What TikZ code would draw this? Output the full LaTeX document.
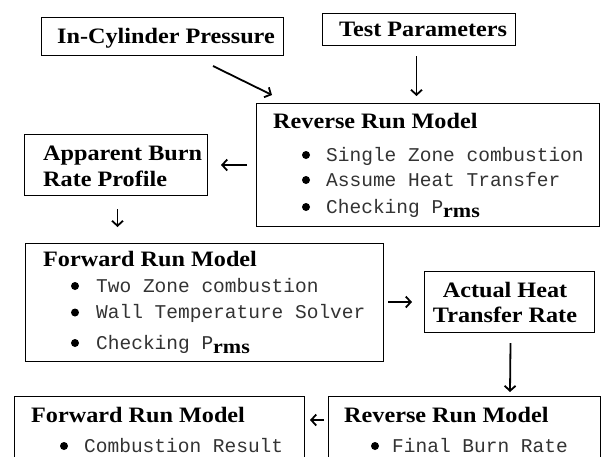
\documentclass[tikz,border=0pt]{standalone}
\usepackage{fontspec}
\usetikzlibrary{arrows.meta,calc}
\newfontfamily\hdfont{Liberation Serif}[FakeStretch=1.10]
\newfontfamily\codefont{Liberation Mono}
% bold serif subscript used after the monospaced "P"
\newcommand\rmsub{\raisebox{-4.5pt}{\color{black}\hdfont\bfseries\fontsize{20}{22}\selectfont rms}}
\tikzset{
  box/.style={draw=black, line width=1pt, anchor=north west, inner sep=0pt},
  head/.style={anchor=base west, inner sep=0pt, font=\hdfont\bfseries\fontsize{22}{24}\selectfont},
  headc/.style={head, anchor=base},
  item/.style={anchor=base west, inner sep=0pt, text=black!80, font=\codefont\fontsize{19.5}{22}\selectfont},
  dot/.style={circle, fill=black, inner sep=0pt, minimum size=8pt},
  flow/.style={draw=black, line width=1.8pt, -{Straight Barb[length=5pt,width=11pt]}},
}
\begin{document}
\begin{tikzpicture}[x=1pt,y=-1pt]
\useasboundingbox (0,0) rectangle (601,456);
\fill[white] (0,0) rectangle (601,456);
\clip (0,0) rectangle (601,456);

% ---- inputs
\node[box, minimum width=242pt, minimum height=38pt] (incyl) at (41,17) {};
\node[head] (incylT) at (57,43) {In-Cylinder Pressure};

\node[box, minimum width=193pt, minimum height=32pt] (test) at (322,13) {};
\node[head] (testT) at (339,36) {Test Parameters};

% ---- first reverse run
\node[box, minimum width=343pt, minimum height=123pt] (rev1) at (256,103) {};
\node[head] (rev1T) at (273,128) {Reverse Run Model};
\node[dot] (rev1d1) at (306,155) {};
\node[item] (rev1i1) at (326,161) {Single Zone combustion};
\node[dot] (rev1d2) at (306,180) {};
\node[item] (rev1i2) at (326,186) {Assume Heat Transfer};
\node[dot] (rev1d3) at (306,207) {};
\node[item] (rev1i3) at (326,213) {Checking P\rmsub};

% ---- apparent burn rate
\node[box, minimum width=183pt, minimum height=61pt] (abr) at (24,134) {};
\node[head] (abrT1) at (43,160) {Apparent Burn};
\node[head] (abrT2) at (43,186) {Rate Profile};

% ---- first forward run
\node[box, minimum width=358pt, minimum height=118pt] (fwd1) at (25,243) {};
\node[head] (fwd1T) at (43,266) {Forward Run Model};
\node[dot] (fwd1d1) at (75,286) {};
\node[item] (fwd1i1) at (96,292) {Two Zone combustion};
\node[dot] (fwd1d2) at (75,312.5) {};
\node[item] (fwd1i2) at (96,318.5) {Wall Temperature Solver};
\node[dot] (fwd1d3) at (75,343) {};
\node[item] (fwd1i3) at (96,349) {Checking P\rmsub};

% ---- actual heat transfer rate
\node[box, minimum width=170pt, minimum height=61pt] (aht) at (424,271) {};
\node[headc] (ahtT1) at (505,297) {Actual Heat};
\node[headc] (ahtT2) at (505,322) {Transfer Rate};

% ---- final reverse run
\node[box, minimum width=272pt, minimum height=90pt] (rev2) at (328,396) {};
\node[head] (rev2T) at (344,422) {Reverse Run Model};
\node[dot] (rev2d1) at (375,446) {};
\node[item] (rev2i1) at (392,452.5) {Final Burn Rate};

% ---- final forward run
\node[box, minimum width=290pt, minimum height=90pt] (fwd2) at (14,396) {};
\node[head] (fwd2T) at (31,422) {Forward Run Model};
\node[dot] (fwd2d1) at (64,446) {};
\node[item] (fwd2i1) at (84,452.5) {Combustion Result};

% ---- connectors
\coordinate (a1s) at ($(incyl.south east)+(-71,10)$);
\coordinate (a1e) at ($(rev1.north west)+(16,-8)$);
\draw[flow] (a1s) -- (a1e);

\coordinate (a2s) at ($(test.south)+(-2.5,10)$);
\coordinate (a2e) at ($(test.south)+(-2.5,50)$);
\draw[flow] (a2s) -- (a2e);

\coordinate (a3s) at ($(rev1.north west)+(-9,62)$);
\coordinate (a3e) at ($(abr.north east)+(13,31)$);
\draw[flow] (a3s) -- (a3e);

\coordinate (a4s) at ($(abr.south)+(1.5,13)$);
\coordinate (a4e) at ($(abr.south)+(1.5,31)$);
\draw[flow] (a4s) -- (a4e);

\coordinate (a5s) at ($(fwd1.north east)+(4,59)$);
\coordinate (a5e) at ($(aht.north west)+(-12,31)$);
\draw[flow] (a5s) -- (a5e);

\coordinate (a6s) at ($(aht.south)+(1,10)$);
\coordinate (a6e) at ($(rev2.north west)+(182,-4)$);
\draw[flow] (a6s) -- (a6e);

\coordinate (a7s) at ($(rev2.north west)+(-4,24)$);
\coordinate (a7e) at ($(fwd2.north east)+(5,24)$);
\draw[flow] (a7s) -- (a7e);
\end{tikzpicture}
\end{document}
